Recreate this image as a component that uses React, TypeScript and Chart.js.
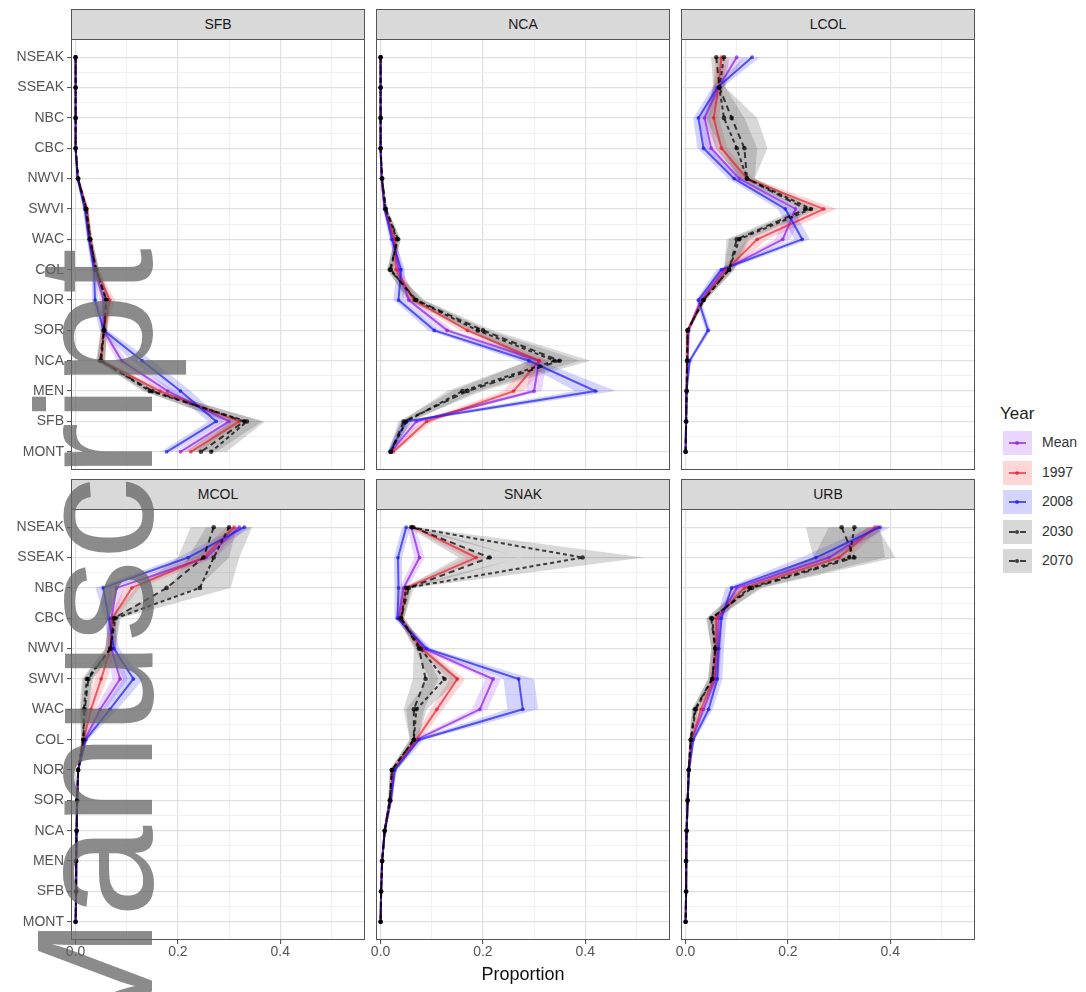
import React, { useEffect, useRef } from "react";
import { Chart, registerables } from "chart.js";

Chart.register(...registerables);

// ---------- data ----------
const REGIONS = ["NSEAK", "SSEAK", "NBC", "CBC", "NWVI", "SWVI", "WAC", "COL", "NOR", "SOR", "NCA", "MEN", "SFB", "MONT"];
const YEARS = ["Mean", "1997", "2008", "2030", "2070"];
const PANELS = ["SFB", "NCA", "LCOL", "MCOL", "SNAK", "URB"];
const X_TICKS = [0, 0.1, 0.2, 0.3, 0.4, 0.5];
const X_TICK_LABELS = ["0.0", "", "0.2", "", "0.4", ""];
const X_TITLE = "Proportion";
const LEGEND_TITLE = "Year";
const WATERMARK = "Manuscript";

// rows: Mean, 1997, 2008, 2030, 2070 ; columns follow REGIONS
const SFB_VALUES = [
  [0, 0, 0, 0, 0.004, 0.02, 0.027, 0.038, 0.055, 0.055, 0.09, 0.18, 0.30, 0.205],
  [0, 0, 0, 0, 0.004, 0.022, 0.028, 0.04, 0.067, 0.055, 0.05, 0.165, 0.32, 0.225],
  [0, 0, 0, 0, 0.004, 0.018, 0.026, 0.036, 0.038, 0.055, 0.13, 0.205, 0.275, 0.178],
  [0, 0, 0, 0, 0.005, 0.02, 0.028, 0.04, 0.06, 0.055, 0.048, 0.15, 0.33, 0.245],
  [0, 0, 0, 0, 0.005, 0.021, 0.029, 0.04, 0.06, 0.056, 0.05, 0.145, 0.335, 0.265],
];
const SFB_BANDS = [
  [0, 0, 0, 0, 0.002, 0.004, 0.004, 0.005, 0.008, 0.006, 0.01, 0.015, 0.015, 0.012],
  [0, 0, 0, 0, 0.002, 0.004, 0.004, 0.005, 0.01, 0.006, 0.008, 0.012, 0.012, 0.012],
  [0, 0, 0, 0, 0.002, 0.004, 0.004, 0.005, 0.006, 0.008, 0.02, 0.02, 0.015, 0.012],
  [0, 0, 0, 0, 0.002, 0.004, 0.004, 0.006, 0.008, 0.006, 0.008, 0.015, 0.035, 0.03],
  [0, 0, 0, 0, 0.002, 0.004, 0.004, 0.006, 0.008, 0.006, 0.008, 0.015, 0.035, 0.03],
];

const NCA_VALUES = [
  [0, 0, 0, 0, 0.002, 0.008, 0.025, 0.035, 0.055, 0.13, 0.31, 0.30, 0.07, 0.02],
  [0, 0, 0, 0, 0.002, 0.008, 0.028, 0.03, 0.065, 0.17, 0.31, 0.26, 0.09, 0.025],
  [0, 0, 0, 0, 0.002, 0.008, 0.022, 0.04, 0.035, 0.105, 0.29, 0.42, 0.05, 0.018],
  [0, 0, 0, 0, 0.003, 0.01, 0.034, 0.018, 0.07, 0.2, 0.35, 0.17, 0.045, 0.02],
  [0, 0, 0, 0, 0.003, 0.01, 0.032, 0.02, 0.068, 0.19, 0.34, 0.16, 0.05, 0.02],
];
const NCA_BANDS = [
  [0, 0, 0, 0, 0.001, 0.003, 0.005, 0.008, 0.01, 0.012, 0.015, 0.015, 0.01, 0.005],
  [0, 0, 0, 0, 0.001, 0.003, 0.005, 0.008, 0.01, 0.015, 0.02, 0.02, 0.012, 0.005],
  [0, 0, 0, 0, 0.001, 0.003, 0.005, 0.008, 0.01, 0.012, 0.02, 0.04, 0.01, 0.005],
  [0, 0, 0, 0, 0.001, 0.003, 0.006, 0.006, 0.015, 0.02, 0.06, 0.03, 0.01, 0.005],
  [0, 0, 0, 0, 0.001, 0.003, 0.006, 0.006, 0.015, 0.02, 0.05, 0.03, 0.01, 0.005],
];

const LCOL_VALUES = [
  [0.10, 0.064, 0.037, 0.05, 0.105, 0.215, 0.19, 0.075, 0.03, 0.006, 0.004, 0.002, 0.001, 0],
  [0.07, 0.064, 0.055, 0.07, 0.12, 0.27, 0.14, 0.08, 0.033, 0.004, 0.003, 0.002, 0.001, 0],
  [0.13, 0.062, 0.025, 0.035, 0.095, 0.195, 0.228, 0.07, 0.025, 0.044, 0.008, 0.002, 0.001, 0],
  [0.06, 0.066, 0.09, 0.115, 0.12, 0.235, 0.10, 0.085, 0.035, 0.004, 0.003, 0.002, 0.001, 0],
  [0.075, 0.066, 0.075, 0.10, 0.12, 0.245, 0.105, 0.085, 0.035, 0.004, 0.003, 0.002, 0.001, 0],
];
const LCOL_BANDS = [
  [0.015, 0.01, 0.01, 0.012, 0.012, 0.015, 0.015, 0.01, 0.005, 0.003, 0.002, 0, 0, 0],
  [0.012, 0.01, 0.01, 0.012, 0.012, 0.025, 0.02, 0.01, 0.005, 0.003, 0.002, 0, 0, 0],
  [0.015, 0.01, 0.01, 0.012, 0.012, 0.015, 0.015, 0.01, 0.005, 0.005, 0.003, 0, 0, 0],
  [0.01, 0.012, 0.05, 0.045, 0.015, 0.015, 0.02, 0.01, 0.005, 0.003, 0.002, 0, 0, 0],
  [0.01, 0.012, 0.04, 0.04, 0.015, 0.015, 0.02, 0.01, 0.005, 0.003, 0.002, 0, 0, 0],
];

const MCOL_VALUES = [
  [0.32, 0.255, 0.08, 0.07, 0.07, 0.087, 0.048, 0.018, 0.005, 0.003, 0.002, 0.001, 0.001, 0],
  [0.31, 0.25, 0.11, 0.072, 0.068, 0.05, 0.03, 0.016, 0.005, 0.003, 0.002, 0.001, 0.001, 0],
  [0.33, 0.22, 0.054, 0.065, 0.075, 0.113, 0.067, 0.02, 0.005, 0.003, 0.002, 0.001, 0.001, 0],
  [0.27, 0.25, 0.178, 0.075, 0.068, 0.025, 0.018, 0.015, 0.005, 0.003, 0.002, 0.001, 0.001, 0],
  [0.30, 0.27, 0.243, 0.078, 0.068, 0.022, 0.016, 0.015, 0.005, 0.003, 0.002, 0.001, 0.001, 0],
];
const MCOL_BANDS = [
  [0.015, 0.02, 0.015, 0.008, 0.01, 0.015, 0.01, 0.004, 0.002, 0.001, 0, 0, 0, 0],
  [0.015, 0.02, 0.015, 0.008, 0.01, 0.012, 0.008, 0.004, 0.002, 0.001, 0, 0, 0, 0],
  [0.015, 0.02, 0.015, 0.008, 0.01, 0.02, 0.015, 0.004, 0.002, 0.001, 0, 0, 0, 0],
  [0.045, 0.05, 0.06, 0.01, 0.01, 0.01, 0.008, 0.004, 0.002, 0.001, 0, 0, 0, 0],
  [0.045, 0.05, 0.06, 0.01, 0.01, 0.01, 0.008, 0.004, 0.002, 0.001, 0, 0, 0, 0],
];

const SNAK_VALUES = [
  [0.06, 0.076, 0.045, 0.035, 0.085, 0.22, 0.194, 0.07, 0.025, 0.018, 0.008, 0.003, 0.001, 0],
  [0.065, 0.187, 0.05, 0.04, 0.08, 0.15, 0.11, 0.07, 0.025, 0.02, 0.008, 0.003, 0.001, 0],
  [0.05, 0.034, 0.035, 0.033, 0.09, 0.27, 0.278, 0.075, 0.028, 0.02, 0.008, 0.003, 0.001, 0],
  [0.063, 0.213, 0.055, 0.04, 0.075, 0.088, 0.065, 0.065, 0.022, 0.018, 0.008, 0.003, 0.001, 0],
  [0.06, 0.395, 0.05, 0.04, 0.078, 0.125, 0.07, 0.065, 0.022, 0.018, 0.008, 0.003, 0.001, 0],
];
const SNAK_BANDS = [
  [0.008, 0.01, 0.008, 0.006, 0.01, 0.015, 0.015, 0.008, 0.004, 0.003, 0.002, 0.001, 0, 0],
  [0.008, 0.02, 0.008, 0.006, 0.01, 0.015, 0.012, 0.008, 0.004, 0.003, 0.002, 0.001, 0, 0],
  [0.008, 0.008, 0.008, 0.006, 0.01, 0.03, 0.03, 0.01, 0.004, 0.003, 0.002, 0.001, 0, 0],
  [0.01, 0.06, 0.01, 0.006, 0.01, 0.025, 0.02, 0.008, 0.004, 0.003, 0.002, 0.001, 0, 0],
  [0.01, 0.12, 0.01, 0.006, 0.01, 0.03, 0.02, 0.008, 0.004, 0.003, 0.002, 0.001, 0, 0],
];

const URB_VALUES = [
  [0.375, 0.28, 0.10, 0.065, 0.062, 0.058, 0.035, 0.012, 0.006, 0.004, 0.002, 0.001, 0.001, 0],
  [0.37, 0.30, 0.115, 0.06, 0.06, 0.055, 0.03, 0.012, 0.006, 0.004, 0.002, 0.001, 0.001, 0],
  [0.38, 0.255, 0.09, 0.07, 0.065, 0.062, 0.045, 0.015, 0.007, 0.004, 0.002, 0.001, 0.001, 0],
  [0.305, 0.33, 0.13, 0.05, 0.058, 0.052, 0.018, 0.01, 0.006, 0.004, 0.002, 0.001, 0.001, 0],
  [0.33, 0.32, 0.125, 0.052, 0.058, 0.052, 0.02, 0.01, 0.006, 0.004, 0.002, 0.001, 0.001, 0],
];
const URB_BANDS = [
  [0.015, 0.02, 0.01, 0.008, 0.008, 0.008, 0.006, 0.003, 0.002, 0.001, 0, 0, 0, 0],
  [0.015, 0.02, 0.01, 0.008, 0.008, 0.008, 0.006, 0.003, 0.002, 0.001, 0, 0, 0, 0],
  [0.02, 0.03, 0.012, 0.01, 0.01, 0.01, 0.008, 0.003, 0.002, 0.001, 0, 0, 0, 0],
  [0.07, 0.08, 0.02, 0.01, 0.008, 0.008, 0.006, 0.003, 0.002, 0.001, 0, 0, 0, 0],
  [0.05, 0.07, 0.02, 0.01, 0.008, 0.008, 0.006, 0.003, 0.002, 0.001, 0, 0, 0, 0],
];

const PANEL_VALUES = [SFB_VALUES, NCA_VALUES, LCOL_VALUES, MCOL_VALUES, SNAK_VALUES, URB_VALUES];
const PANEL_BANDS = [SFB_BANDS, NCA_BANDS, LCOL_BANDS, MCOL_BANDS, SNAK_BANDS, URB_BANDS];

// ---------- styles ----------
const LINE_COLORS = ["rgba(140,30,230,0.72)", "rgba(225,25,45,0.65)", "rgba(25,25,240,0.7)", "rgba(0,0,0,0.72)", "rgba(0,0,0,0.72)"];
const FILL_COLORS = ["rgba(175,95,255,0.26)", "rgba(255,85,85,0.24)", "rgba(90,90,255,0.26)", "rgba(90,90,90,0.24)", "rgba(90,90,90,0.24)"];
const DASHES: number[][] = [[], [], [], [6, 4], [4, 3]];
const LEGEND_DASH = ["solid", "solid", "solid", "dashed", "dashed"];

const FONT = '"Liberation Sans", Arial, Helvetica, sans-serif';
const PLOT_LEFTS = [71, 376, 681];
const PLOT_TOPS = [39, 509];
const PLOT_W = 294;
const PLOT_H = 431;
const STRIP_H = 31;
const PAD = 12;
const X_MIN = -0.009;
const X_MAX = 0.5658;
const Y_MIN = -0.6;
const Y_MAX = 13.6;

const isMajorX = (v: number) => Math.round(v * 10) % 2 === 0;
const isMajorY = (v: number) => Math.abs(v - Math.round(v)) < 1e-6;

const panelPlugin = {
  id: "panelFrame",
  afterDraw(chart: any) {
    const { ctx, chartArea } = chart;
    const { left, top, right, bottom } = chartArea;
    ctx.save();
    ctx.strokeStyle = "#555555";
    ctx.lineWidth = 1;
    ctx.strokeRect(Math.round(left) + 0.5, Math.round(top) + 0.5, Math.round(right - left) - 1, Math.round(bottom - top) - 1);
    ctx.restore();
  },
};

function Panel({ idx }: { idx: number }) {
  const ref = useRef<HTMLCanvasElement>(null);
  const r = Math.floor(idx / 3);
  const c = idx % 3;
  const L = c === 0 ? 71 : PAD;
  const B = r === 1 ? 30 : PAD;
  const w = L + PLOT_W + PAD;
  const h = PAD + PLOT_H + B;
  const plotLeft = PLOT_LEFTS[c];
  const plotTop = PLOT_TOPS[r];

  useEffect(() => {
    const values = PANEL_VALUES[idx];
    const bands = PANEL_BANDS[idx];
    const datasets: any[] = [];
    YEARS.forEach((year, s) => {
      const lo = values[s].map((v, i) => ({ x: Math.max(0, v - bands[s][i]), y: i }));
      const hi = values[s].map((v, i) => ({ x: v + bands[s][i], y: i })).reverse();
      datasets.push({
        label: year + " band",
        data: [...lo, ...hi],
        fill: "shape",
        backgroundColor: FILL_COLORS[s],
        borderWidth: 0,
        borderColor: "rgba(0,0,0,0)",
        pointRadius: 0,
        order: 30 - s,
      });
    });
    YEARS.forEach((year, s) => {
      datasets.push({
        label: year,
        data: values[s].map((v, i) => ({ x: v, y: i })),
        fill: false,
        borderColor: LINE_COLORS[s],
        borderWidth: 2,
        borderDash: DASHES[s],
        pointRadius: s >= 3 ? 2.3 : 1.9,
        pointBorderWidth: 0,
        pointBackgroundColor: LINE_COLORS[s],
        tension: 0,
        order: 10 - s,
      });
    });

    const chart = new Chart(ref.current as HTMLCanvasElement, {
      type: "line",
      data: { datasets },
      plugins: [panelPlugin],
      options: {
        animation: false,
        responsive: false,
        devicePixelRatio: 1,
        indexAxis: "y",
        layout: { padding: { left: 0, top: PAD, right: PAD, bottom: r === 1 ? 0 : PAD } },
        plugins: { legend: { display: false }, tooltip: { enabled: false }, title: { display: false } },
        scales: {
          x: {
            type: "linear",
            position: "bottom",
            min: X_MIN,
            max: X_MAX,
            afterBuildTicks: (axis: any) => {
              axis.ticks = X_TICKS.map((v) => ({ value: v }));
            },
            afterFit: (axis: any) => {
              axis.height = r === 1 ? 30 : 0;
            },
            border: { display: false },
            grid: {
              drawTicks: r === 1,
              tickLength: 4,
              tickWidth: 1,
              tickColor: (ctx: any) => (ctx.tick && isMajorX(ctx.tick.value) ? "#444444" : "rgba(0,0,0,0)"),
              color: (ctx: any) => (ctx.tick && isMajorX(ctx.tick.value) ? "#E0E0E0" : "#EEEEEE"),
              lineWidth: (ctx: any) => (ctx.tick && isMajorX(ctx.tick.value) ? 1.2 : 0.8),
            },
            ticks: {
              display: r === 1,
              autoSkip: false,
              maxRotation: 0,
              padding: 0,
              color: "#555555",
              font: { family: FONT, size: 14 },
              callback: (v: any) => {
                const k = X_TICKS.findIndex((t) => Math.abs(t - Number(v)) < 1e-6);
                return k >= 0 ? X_TICK_LABELS[k] : "";
              },
            },
          },
          y: {
            type: "linear",
            position: "left",
            reverse: true,
            min: Y_MIN,
            max: Y_MAX,
            afterBuildTicks: (axis: any) => {
              const t: any[] = [];
              for (let i = 0; i < REGIONS.length; i++) {
                t.push({ value: i });
                if (i < REGIONS.length - 1) t.push({ value: i + 0.5 });
              }
              axis.ticks = t;
            },
            afterFit: (axis: any) => {
              axis.width = L;
            },
            border: { display: false },
            grid: {
              drawTicks: c === 0,
              tickLength: 4,
              tickWidth: 1,
              tickColor: (ctx: any) => (ctx.tick && isMajorY(ctx.tick.value) ? "#444444" : "rgba(0,0,0,0)"),
              color: (ctx: any) => (ctx.tick && isMajorY(ctx.tick.value) ? "#E0E0E0" : "#EEEEEE"),
              lineWidth: (ctx: any) => (ctx.tick && isMajorY(ctx.tick.value) ? 1.2 : 0.8),
            },
            ticks: {
              display: c === 0,
              autoSkip: false,
              padding: 3,
              color: "#555555",
              font: { family: FONT, size: 14 },
              callback: (v: any) => (isMajorY(Number(v)) ? REGIONS[Math.round(Number(v))] : ""),
            },
          },
        },
      } as any,
    });
    return () => chart.destroy();
  }, [idx]);

  return (
    <>
      <canvas
        ref={ref}
        width={w}
        height={h}
        style={{ position: "absolute", left: plotLeft - L, top: plotTop - PAD, width: w, height: h }}
      />
      <div
        style={{
          position: "absolute",
          left: plotLeft,
          top: plotTop - STRIP_H + 1,
          width: PLOT_W,
          height: STRIP_H,
          boxSizing: "border-box",
          background: "#D9D9D9",
          border: "1px solid #555555",
          color: "#1A1A1A",
          fontFamily: FONT,
          fontSize: 14,
          lineHeight: STRIP_H - 2 + "px",
          textAlign: "center",
        }}
      >
        {PANELS[idx]}
      </div>
    </>
  );
}

const LEGEND_TOP = 431;
const LEGEND_STEP = 29.5;

export default function App() {
  return (
    <div
      style={{
        position: "fixed",
        left: 0,
        top: 0,
        width: 1086,
        height: 992,
        overflow: "hidden",
        background: "#ffffff",
        fontFamily: FONT,
      }}
    >
      {PANELS.map((p, i) => (
        <Panel key={p} idx={i} />
      ))}

      <div
        style={{
          position: "absolute",
          left: PLOT_LEFTS[0],
          width: PLOT_LEFTS[2] + PLOT_W - PLOT_LEFTS[0],
          top: 964,
          textAlign: "center",
          fontSize: 18,
          color: "#111",
        }}
      >
        {X_TITLE}
      </div>

      <div style={{ position: "absolute", left: 1000, top: 404, fontSize: 17, color: "#222" }}>{LEGEND_TITLE}</div>
      {YEARS.map((y, s) => (
        <div key={y} style={{ position: "absolute", left: 1003, top: LEGEND_TOP + s * LEGEND_STEP, height: 24 }}>
          <div style={{ position: "absolute", left: 0, top: 0, width: 29, height: 24, background: FILL_COLORS[s] }} />
          <div
            style={{
              position: "absolute",
              left: 6,
              top: 11,
              width: 17,
              height: 0,
              borderTop: `2px ${LEGEND_DASH[s]} ${LINE_COLORS[s]}`,
            }}
          />
          <div
            style={{
              position: "absolute",
              left: 12,
              top: 10,
              width: 4,
              height: 4,
              borderRadius: 2,
              background: LINE_COLORS[s],
            }}
          />
          <div style={{ position: "absolute", left: 39, top: 3, fontSize: 14, color: "#333", whiteSpace: "nowrap" }}>{y}</div>
        </div>
      ))}

      <div
        style={{
          position: "absolute",
          left: 13,
          top: 1055,
          fontFamily: FONT,
          fontSize: 165,
          lineHeight: "165px",
          whiteSpace: "nowrap",
          color: "rgba(100,100,100,0.75)",
          transform: "rotate(-90deg)",
          transformOrigin: "0 0",
          pointerEvents: "none",
        }}
      >
        {WATERMARK}
      </div>
    </div>
  );
}
